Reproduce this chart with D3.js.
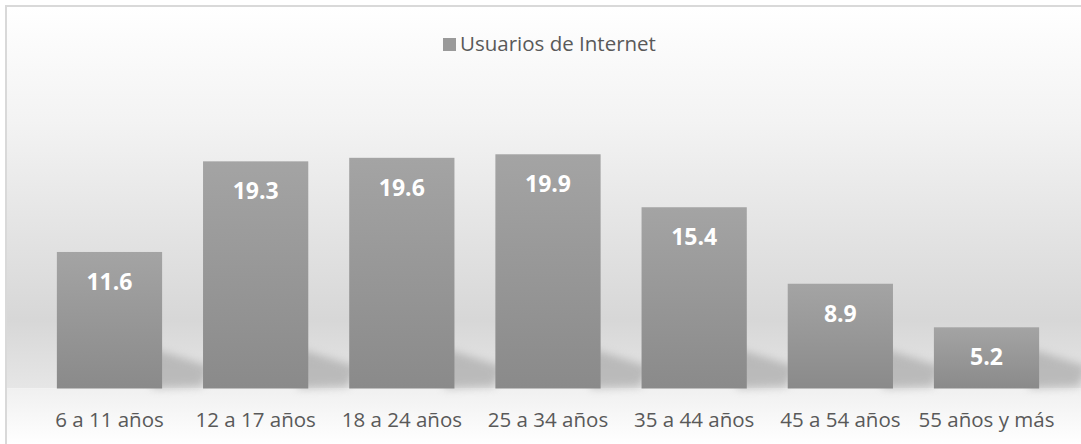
<!DOCTYPE html>
<html>
<head>
<meta charset="utf-8">
<script src="https://cdn.jsdelivr.net/npm/d3@7"></script>
<style>
  html, body { margin: 0; padding: 0; background: #fff; overflow: hidden; }
  #chart { width: 1081px; height: 444px; }
</style>
</head>
<body>
<div id="chart"></div>
<script>
// Data
var categories = ["6 a 11 años", "12 a 17 años", "18 a 24 años", "25 a 34 años", "35 a 44 años", "45 a 54 años", "55 años y más"];
var values = [11.6, 19.3, 19.6, 19.9, 15.4, 8.9, 5.2];
var seriesName = "Usuarios de Internet";

function drawBarChart() {
    var width = 1081,
        height = 444;

    var svg = d3.select("#chart").append("svg")
        .attr("width", width)
        .attr("height", height);

    var defs = svg.append("defs");

    // Wall gradient (white at top, gray near the floor)
    var wall = defs.append("linearGradient")
        .attr("id", "wall").attr("x1", 0).attr("y1", 0).attr("x2", 0).attr("y2", 1);
    wall.append("stop").attr("offset", "0%").attr("stop-color", "#ffffff");
    wall.append("stop").attr("offset", "30%").attr("stop-color", "#f3f3f3");
    wall.append("stop").attr("offset", "82%").attr("stop-color", "#d7d7d7");
    wall.append("stop").attr("offset", "100%").attr("stop-color", "#e6e6e6");

    var floor = defs.append("linearGradient")
        .attr("id", "floor").attr("x1", 0).attr("y1", 0).attr("x2", 0).attr("y2", 1);
    floor.append("stop").attr("offset", "0%").attr("stop-color", "#f0f0f0");
    floor.append("stop").attr("offset", "100%").attr("stop-color", "#ffffff");

    var barGrad = defs.append("linearGradient")
        .attr("id", "barGrad").attr("x1", 0).attr("y1", 0).attr("x2", 0).attr("y2", 1);
    barGrad.append("stop").attr("offset", "0%").attr("stop-color", "#a4a4a4");
    barGrad.append("stop").attr("offset", "100%").attr("stop-color", "#8a8a8a");

    var blur = defs.append("filter").attr("id", "blur")
        .attr("x", "-50%").attr("y", "-50%").attr("width", "200%").attr("height", "200%");
    blur.append("feGaussianBlur").attr("stdDeviation", 4);

    // Scales
    var baseY = 388.5;
    var x = d3.scaleBand()
        .domain(categories)
        .range([36.4, 1059.6])
        .paddingInner(0.28)
        .paddingOuter(0.14);

    var y = d3.scaleLinear()
        .domain([0, 25])
        .range([baseY, baseY - 25 * 11.77]);

    // Background
    svg.append("rect")
        .attr("x", 7).attr("y", 7)
        .attr("width", width).attr("height", baseY - 7)
        .attr("fill", "url(#wall)");
    svg.append("rect")
        .attr("x", 7).attr("y", baseY)
        .attr("width", width).attr("height", height - baseY)
        .attr("fill", "url(#floor)");

    // Chart border
    svg.append("rect")
        .attr("x", 6).attr("y", 6)
        .attr("width", width + 10).attr("height", height + 10)
        .attr("fill", "none")
        .attr("stroke", "#d9d9d9")
        .attr("stroke-width", 2);

    // Perspective shadows behind the bars
    svg.append("g").selectAll("path")
        .data(values)
        .enter().append("path")
        .attr("d", function(d, i) {
            var x0 = x(categories[i]) + x.bandwidth();
            var h = Math.min(40, baseY - y(d));
            return "M" + (x0 - 10) + "," + baseY +
                   "L" + (x0 + 40) + "," + (baseY - 2) +
                   "L" + (x0 + 48) + "," + (baseY - h * 0.55) +
                   "L" + (x0 - 10) + "," + (baseY - h) + "Z";
        })
        .attr("fill", "#9a9a9a")
        .attr("opacity", 0.55)
        .attr("filter", "url(#blur)");

    // Bars
    svg.append("g").selectAll("rect")
        .data(values)
        .enter().append("rect")
        .attr("x", function(d, i) { return x(categories[i]); })
        .attr("y", function(d) { return y(d); })
        .attr("width", x.bandwidth())
        .attr("height", function(d) { return baseY - y(d); })
        .attr("fill", "url(#barGrad)");

    // Value labels
    svg.append("g").selectAll("text")
        .data(values)
        .enter().append("text")
        .attr("x", function(d, i) { return x(categories[i]) + x.bandwidth() / 2; })
        .attr("y", function(d) { return y(d) + 38; })
        .attr("text-anchor", "middle")
        .attr("fill", "#ffffff")
        .style("font-family", "'Open Sans', sans-serif")
        .style("font-weight", "bold")
        .style("font-size", "23px")
        .text(function(d) { return d.toFixed(1); });

    // X axis labels
    var xAxis = d3.axisBottom(x).tickSize(0).tickPadding(0);
    var axisG = svg.append("g")
        .attr("transform", "translate(0," + (baseY + 20) + ")")
        .call(xAxis);
    axisG.select(".domain").remove();
    axisG.selectAll("text")
        .attr("dy", null)
        .attr("y", 427 - (baseY + 20))
        .attr("fill", "#595959")
        .style("font-family", "'Open Sans', sans-serif")
        .style("font-size", "20.5px");

    // Legend
    var legend = svg.append("g").attr("transform", "translate(443,38)");
    legend.append("rect")
        .attr("width", 13).attr("height", 13)
        .attr("fill", "#9a9a9a");
    legend.append("text")
        .attr("x", 17).attr("y", 12.5)
        .attr("fill", "#595959")
        .style("font-family", "'Open Sans', sans-serif")
        .style("font-size", "20.5px")
        .text(seriesName);
}

drawBarChart();
</script>
</body>
</html>
